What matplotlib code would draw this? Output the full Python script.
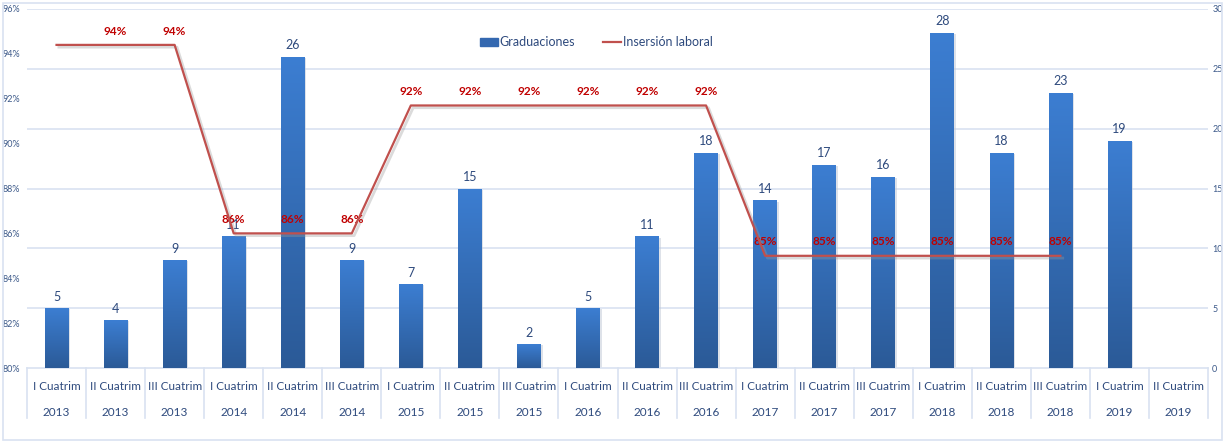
import numpy as np
import matplotlib
matplotlib.use("Agg")
import matplotlib.pyplot as plt
from matplotlib.patches import Rectangle
from matplotlib.lines import Line2D
from matplotlib.colors import LinearSegmentedColormap
import matplotlib.transforms as mtransforms

plt.rcParams['font.family'] = ['Lato', 'DejaVu Sans']

periodos = ["I Cuatrim", "II Cuatrim", "III Cuatrim"] * 6 + ["I Cuatrim", "II Cuatrim"]
anios = ["2013"] * 3 + ["2014"] * 3 + ["2015"] * 3 + ["2016"] * 3 + ["2017"] * 3 + ["2018"] * 3 + ["2019"] * 2
graduaciones = [5, 4, 9, 11, 26, 9, 7, 15, 2, 5, 11, 18, 14, 17, 16, 28, 18, 23, 19, None]
insercion = [94.4, 94.4, 94.4, 86.0, 86.0, 86.0, 91.7, 91.7, 91.7, 91.7, 91.7, 91.7,
             85.0, 85.0, 85.0, 85.0, 85.0, 85.0, None, None]
# el primer punto no lleva etiqueta en el original
sin_etiqueta = [0]

TXT = "#2E4A7D"
GRID = "#D9E2F1"
RED = "#C0504D"

fig = plt.figure(figsize=(12.25, 4.42), dpi=100)
W, H = 1225, 442
ax = fig.add_axes([27 / W, 1 - 368 / H, (1208 - 27) / W, (368 - 9) / H])
ax2 = ax.twinx()

n = len(periodos)
x = np.arange(n)

# barras (eje derecho, 0-30)
ax.set_ylim(0, 30)
ax.set_xlim(-0.5, n - 0.5)
ax.set_yticks(range(0, 31, 5))
ax.yaxis.tick_right()
for yv in range(5, 31, 5):
    ax.axhline(yv, color=GRID, lw=1.2, zorder=0)

cmap = LinearSegmentedColormap.from_list("barra", ["#2B5A97", "#3C7ED2"])
grad = np.linspace(0, 1, 256).reshape(-1, 1)
for i, v in enumerate(graduaciones):
    if v is None:
        continue
    sh = Rectangle((i - 0.2 + 0.03, 0), 0.4, v - 0.1, color="#BFC7D4", alpha=0.5, zorder=1, lw=0)
    ax.add_patch(sh)
    bars = ax.bar(i, v, width=0.4, color="#3468B0", zorder=2)
    im = ax.imshow(grad, cmap=cmap, origin="lower", aspect="auto",
                   extent=(i - 0.2, i + 0.2, 0, v), zorder=2)
    im.set_clip_path(bars[0])
    ax.annotate(str(v), (i, v), xytext=(0, 4), textcoords="offset points",
                ha="center", va="bottom", fontsize=9, color=TXT)
ax.set_xlim(-0.5, n - 0.5)
ax.set_ylim(0, 30)

# linea (eje izquierdo, 80-96%)
ax2.set_ylim(80, 96)
ax2.set_yticks(range(80, 97, 2))
ax2.set_yticklabels([f"{t}%" for t in range(80, 97, 2)])
ax2.yaxis.tick_left()
xs = [i for i, v in enumerate(insercion) if v is not None]
ys = [insercion[i] for i in xs]
ax2.plot(np.array(xs) + 0.04, np.array(ys) - 0.1, color="#9A9A9A", lw=2, alpha=0.35, zorder=3)
ax2.plot(xs, ys, color=RED, lw=1.6, zorder=4)
for i, v in zip(xs, ys):
    if i in sin_etiqueta:
        continue
    ax2.annotate(f"{v:.0f}%", (i, v), xytext=(0, 10), textcoords="offset points",
                 ha="center", va="center", fontsize=8.5, color="#C00000", fontweight="bold")

for a in (ax, ax2):
    for s in a.spines.values():
        s.set_visible(False)
    a.tick_params(axis="y", length=0, labelsize=6.5, labelcolor="#3D5A8A")
    a.tick_params(axis="x", length=0, labelbottom=False)
ax.tick_params(axis="y", pad=3)
ax2.tick_params(axis="y", pad=5)

# eje x de dos niveles
trans = mtransforms.blended_transform_factory(ax.transData, ax.transAxes)
ax.axhline(0, color=GRID, lw=1.2, zorder=1, clip_on=False)
for k in range(n + 1):
    ax.plot([k - 0.5, k - 0.5], [0, -50 / 359], color=GRID, lw=1.2, transform=trans, clip_on=False)
for i in range(n):
    ax.text(i, -19 / 359, periodos[i], transform=trans, ha="center", va="center", fontsize=8.5, color=TXT)
    ax.text(i, -44 / 359, anios[i], transform=trans, ha="center", va="center", fontsize=8.5, color=TXT)

# leyenda
handles = [Rectangle((0, 0), 1, 1, color="#3468B0"), Line2D([], [], color=RED, lw=1.6)]
fig.legend(handles, ["Graduaciones", "Insersión laboral"], loc="center", ncol=2,
           bbox_to_anchor=(596 / W, 1 - 42 / H), frameon=False, fontsize=9,
           labelcolor=TXT, handlelength=1.5, handleheight=0.6, handletextpad=0.1, columnspacing=2.2)

# borde del grafico
fig.patches.append(Rectangle((3 / W, 2 / H), 1219 / W, 437 / H, transform=fig.transFigure,
                             fill=False, edgecolor=GRID, lw=1.2))

fig.savefig("out.png", dpi=100)
